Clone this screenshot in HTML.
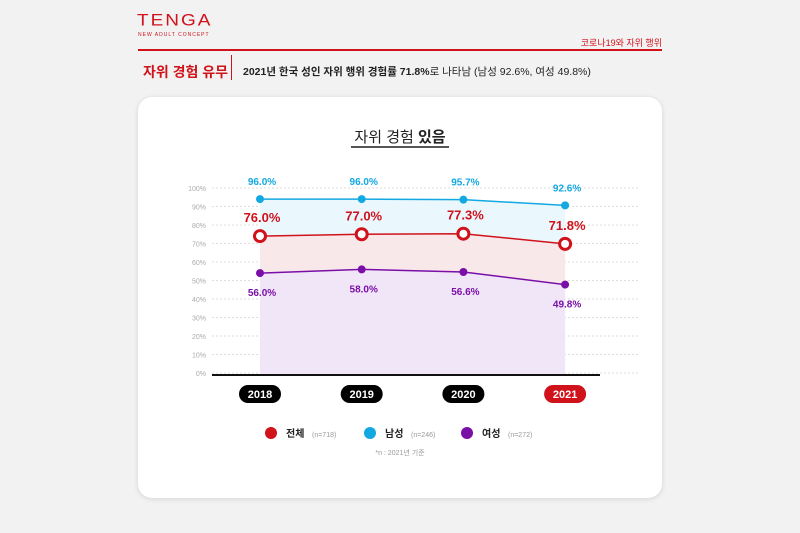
<!DOCTYPE html>
<html><head><meta charset="utf-8"><style>
body{margin:0;width:800px;height:533px;background:#f2f2f2;font-family:"Liberation Sans","Noto Sans CJK KR",sans-serif;overflow:hidden;position:relative}
.abs{position:absolute}
</style></head><body>
<div class="abs" style="left:137px;top:12px;color:#d0121b;font-size:19px;letter-spacing:2px;font-weight:300;transform:scaleY(.85);transform-origin:left top">TENGA</div>
<div class="abs" style="left:138px;top:32px;color:#d0121b;font-size:5px;letter-spacing:1px">NEW ADULT CONCEPT</div>
<div class="abs" style="right:138px;top:36px;color:#d0121b;font-size:9px">코로나19와 자위 행위</div>
<div class="abs" style="left:138px;top:49px;width:524px;height:2px;background:#d0121b"></div>
<div class="abs" style="left:143px;top:62px;color:#d0121b;font-size:14px;font-weight:bold">자위 경험 유무</div>
<div class="abs" style="left:231px;top:55px;width:1px;height:25px;background:#d0121b"></div>
<div class="abs" style="left:243px;top:64px;color:#222;font-size:10.5px"><b>2021년 한국 성인 자위 행위 경험률 71.8%</b>로 나타남 (남성 92.6%, 여성 49.8%)</div>
<div class="abs" style="left:138px;top:97px;width:524px;height:401px;background:#fff;border-radius:14px;box-shadow:0 1px 6px rgba(0,0,0,.12)"></div>
<svg class="abs" style="left:0;top:0" width="800" height="533" id="chart">
<text x="400" y="142" text-anchor="middle" font-size="15" fill="#222">자위 경험 <tspan font-weight="bold">있음</tspan></text>
<rect x="351" y="146" width="98" height="2" fill="#555"/>
<g id="g"></g>
</svg>
<script>
const years=["2018","2019","2020","2021"];
const total=[76.0,77.0,77.3,71.8];
const male=[96.0,96.0,95.7,92.6];
const female=[56.0,58.0,56.6,49.8];
const yTicks=[0,10,20,30,40,50,60,70,80,90,100];
const NS="http://www.w3.org/2000/svg";
const g=document.getElementById('g');
const xs=i=>260+i*101.7;
const yt=v=>373-v*1.85;
const ys=v=>376.7-v*1.85;
function el(t,a,p){const e=document.createElementNS(NS,t);for(const k in a)e.setAttribute(k,a[k]);(p||g).appendChild(e);return e;}
yTicks.forEach(v=>{
 const l=el('line',{x1:212,x2:640,y1:yt(v),y2:yt(v),stroke:'#ddd','stroke-dasharray':'2,2','stroke-width':1});
 
 
 const t=el('text',{x:206,y:yt(v)+3,'text-anchor':'end','font-size':7,fill:'#aaa'});t.textContent=v+'%';
 
 
});
function pts(a){return a.map((v,i)=>xs(i)+','+ys(v));}
function band(top,bot,fill,name){
 const p=pts(top).concat(bot.map((v,i)=>xs(i)+','+(v===null?374:ys(v))).reverse());
 const e=el('polygon',{points:p.join(' '),fill:fill});
 
 
}
band(male,total,'#eaf7fd','male-area');
band(total,female,'#f9e8ea','total-area');
band(female,[null,null,null,null],'#f1e6f8','female-area');
const ax=el('line',{x1:212,x2:600,y1:375,y2:375,stroke:'#111','stroke-width':2});


function series(a,color,name,big,labOff,fs){
 const pl=el('polyline',{points:pts(a).join(' '),fill:'none',stroke:color,'stroke-width':1.5});
 
 
 a.forEach((v,i)=>{
  const c=big?el('circle',{cx:xs(i),cy:ys(v),r:5.5,fill:'#fff',stroke:color,'stroke-width':3}):el('circle',{cx:xs(i),cy:ys(v),r:4,fill:color});
  
  
  const t=el('text',{x:xs(i)+2,y:ys(v)+labOff,'text-anchor':'middle','font-size':fs,'font-weight':'bold',fill:color});
  t.textContent=v.toFixed(1)+'%';
  
  
 });
}
series(male,'#12a8e2','male',false,-14,10);
series(female,'#7a0fa8','female',false,23,10);
series(total,'#d0121b','total',true,-14,13);
years.forEach((y,i)=>{
 const r=el('rect',{x:xs(i)-21,y:385,width:42,height:18,rx:9,fill:i==3?'#d0121b':'#000'});
 
 
 const t=el('text',{x:xs(i),y:398,'text-anchor':'middle','font-size':11,'font-weight':'bold',fill:'#fff'});t.textContent=y;
 
 
});
const leg=[['전체','(n=718)','#d0121b',271],['남성','(n=246)','#12a8e2',370],['여성','(n=272)','#7a0fa8',467]];
leg.forEach(L=>{
 const c=el('circle',{cx:L[3],cy:433,r:6,fill:L[2]});
 
 
 const t=el('text',{x:L[3]+15,y:437,'font-size':10,'font-weight':'bold',fill:'#222'});t.textContent=L[0];
 
 
 const n=el('text',{x:L[3]+41,y:437,'font-size':7,fill:'#999'});n.textContent=L[1];
 
 
});
const f=el('text',{x:400,y:455,'text-anchor':'middle','font-size':7,fill:'#999'});f.textContent='*n : 2021년 기준';


</script>
</body></html>
